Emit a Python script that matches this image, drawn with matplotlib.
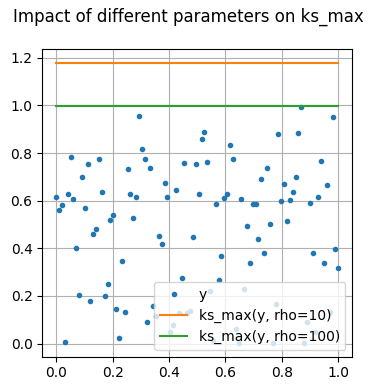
import numpy as np
import matplotlib
matplotlib.use("Agg")
import matplotlib.pyplot as plt

# values, one per x in linspace(0, 1, 100)
Y = [
    0.615, 0.559, 0.580, 0.006, 0.626, 0.785, 0.609, 0.400, 0.203, 0.701,
    0.571, 0.756, 0.179, 0.458, 0.483, 0.777, 0.638, 0.198, 0.249, 0.517,
    0.539, 0.145, 0.022, 0.346, 0.131, 0.731, 0.630, 0.529, 0.617, 0.957,
    0.819, 0.777, 0.089, 0.739, 0.158, 0.114, 0.450, 0.418, 0.676, 0.617,
    0.050, 0.080, 0.643, 0.129, 0.274, 0.760, 0.129, 0.137, 0.446, 0.756,
    0.630, 0.861, 0.887, 0.764, 0.221, 0.010, 0.584, 0.267, 0.366, 0.613,
    0.626, 0.835, 0.777, 0.060, 0.004, 0.609, 0.229, 0.493, 0.337, 0.584,
    0.584, 0.437, 0.693, 0.379, 0.739, 0.504, 0.004, 0.165, 0.881, 0.597,
    0.672, 0.513, 0.601, 0.638, 0.701, 0.886, 0.995, 0.004, 0.090, 0.592,
    0.379, 0.050, 0.615, 0.768, 0.337, 0.664, 0.131, 0.953, 0.395, 0.316,
]
KS_RHO = [10, 100]
KS_VALUES = [1.177, 0.997]

x = np.linspace(0, 1, len(Y))
y = np.array(Y)

fig, ax = plt.subplots(figsize=(3.77, 3.91), dpi=100)
ax.plot(x, y, ".", label="y")
for rho, val in zip(KS_RHO, KS_VALUES):
    ax.plot(x, np.full_like(x, val), label=f"ks_max(y, rho={rho})")
fig.suptitle("Impact of different parameters on ks_max")
ax.grid(True)
ax.legend(loc="lower right")
fig.subplots_adjust(left=0.112, right=0.9345, top=0.874, bottom=0.088)
fig.savefig("out.png", dpi=100)
